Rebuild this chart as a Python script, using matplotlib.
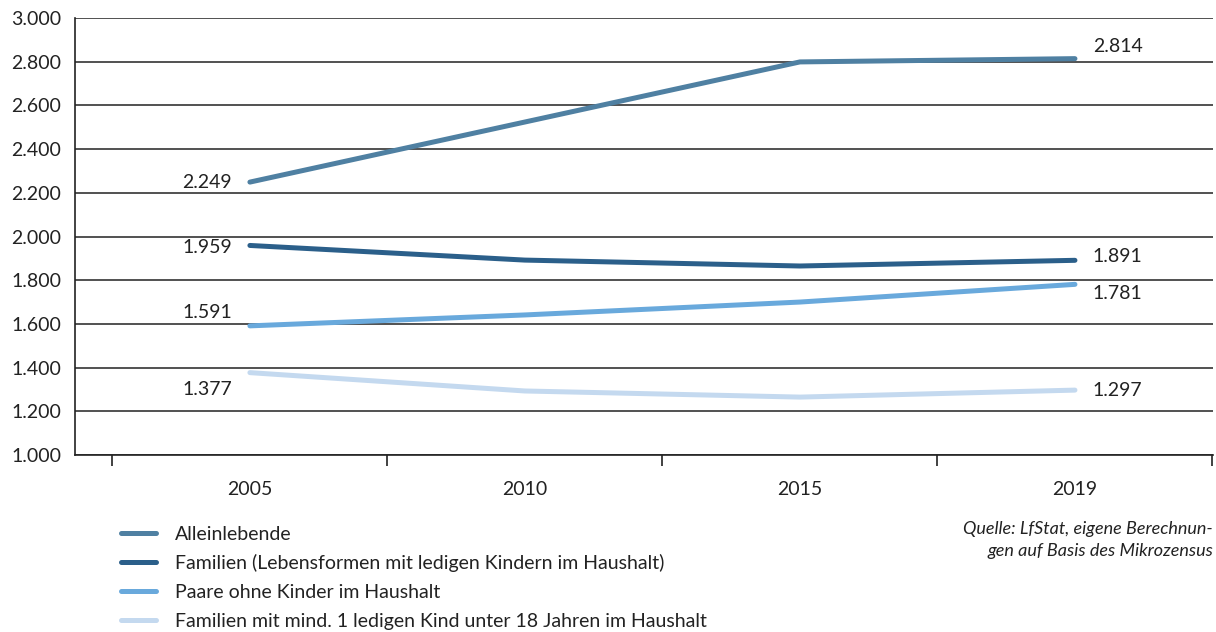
import matplotlib.pyplot as plt

plt.rcParams['font.family'] = ['Lato', 'DejaVu Sans']

# data
years = ["2005", "2010", "2015", "2019"]
allein = [2249, 2524, 2799, 2814]
familien = [1959, 1892, 1865, 1891]
paare = [1591, 1641, 1700, 1781]
kinder18 = [1377, 1293, 1265, 1297]

names = ["Alleinlebende",
         "Familien (Lebensformen mit ledigen Kindern im Haushalt)",
         "Paare ohne Kinder im Haushalt",
         "Familien mit mind. 1 ledigen Kind unter 18 Jahren im Haushalt"]
colors = ["#4f80a2", "#2b5f8a", "#69a9dc", "#c4d9ef"]

# label offsets in data units (start, end)
start_off = [0, -9, 60, -78]
end_off = [55, 18, -40, 0]

fig = plt.figure(figsize=(12.16, 6.32), dpi=100)
ax = fig.add_axes([75/1216, 1 - 455/632, (1213 - 75)/1216, (455 - 18)/632])

x = range(len(years))
series = [allein, familien, paare, kinder18]
for s, c, n in zip(series, colors, names):
    ax.plot(x, s, color=c, lw=3.6, solid_capstyle='round', label=n, zorder=3)

for i, s in enumerate(series):
    ax.text(-0.065, s[0] + start_off[i], f"{s[0]/1000:.3f}", ha='right', va='center',
            fontsize=14, color='#222222')
    ax.text(3.065, s[-1] + end_off[i], f"{s[-1]/1000:.3f}", ha='left', va='center',
            fontsize=14, color='#222222')

ax.set_ylim(1000, 3000)
ax.set_xlim(-0.636, 3.502)
yt = range(1000, 3001, 200)
ax.set_yticks(list(yt))
ax.set_yticklabels([f"{v/1000:.3f}" for v in yt], fontsize=14, color='#222222')
ax.yaxis.grid(True, color='#222222', lw=1.1)
ax.set_axisbelow(True)
ax.tick_params(axis='y', length=0, pad=10)

ax.set_xticks(list(x))
ax.set_xticklabels(years, fontsize=14, color='#222222')
ax.tick_params(axis='x', which='major', length=0, pad=19)
ax.set_xticks([-0.5, 0.5, 1.5, 2.5, 3.5], minor=True)
ax.tick_params(axis='x', which='minor', length=8, width=1.3, color='#333333')

for side in ['top', 'right']:
    ax.spines[side].set_visible(False)
for side in ['left', 'bottom']:
    ax.spines[side].set_color('#222222')
    ax.spines[side].set_linewidth(1.2)

leg = fig.legend(loc='upper left', bbox_to_anchor=(103/1216, 1 - 508/632), frameon=False,
                 fontsize=14, handlelength=1.8, handletextpad=1.0, labelspacing=0.6,
                 labelcolor='#222222')

fig.text(1213/1216, 1 - 540/632, "Quelle: LfStat, eigene Berechnun-\ngen auf Basis des Mikrozensus",
         ha='right', va='center', fontsize=13, style='italic', color='#222222',
         linespacing=1.4)

fig.savefig("out.png", dpi=100)
